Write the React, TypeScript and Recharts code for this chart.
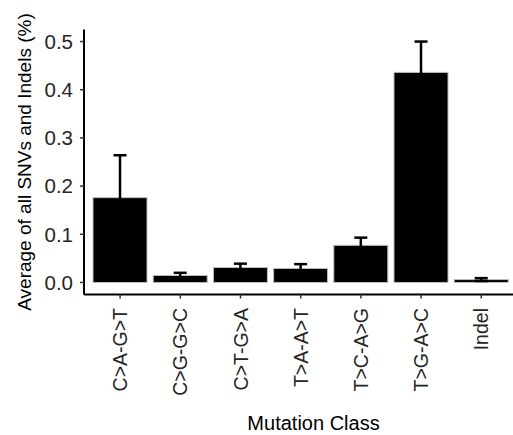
import React from "react";
import { BarChart, Bar, XAxis, YAxis, ErrorBar, Label } from "recharts";

const categories = ["C>A-G>T", "C>G-G>C", "C>T-G>A", "T>A-A>T", "T>C-A>G", "T>G-A>C", "Indel"];
const meanValues = [0.176, 0.0145, 0.031, 0.029, 0.077, 0.436, 0.006];
const upperValues = [0.264, 0.02, 0.039, 0.038, 0.093, 0.5, 0.009];
const yTicks = [0, 0.1, 0.2, 0.3, 0.4, 0.5];

const data = categories.map((c, i) => ({
  name: c,
  value: meanValues[i],
  err: upperValues[i] - meanValues[i],
}));

const FONT = "'Liberation Sans', Arial, Helvetica, sans-serif";

const XTick = (props: any) => {
  const { x, y, payload } = props;
  return (
    <text
      x={x}
      y={y}
      transform={`rotate(-90 ${x} ${y})`}
      textAnchor="end"
      dominantBaseline="central"
      fontSize={19.5}
      fontFamily={FONT}
      fill="#262626"
    >
      {payload.value}
    </text>
  );
};

export default function App() {
  return (
    <div style={{ position: "absolute", left: 0, top: 0, width: 513, height: 435, overflow: "hidden", background: "#fff" }}>
      <BarChart
        width={560}
        height={435}
        data={data}
        margin={{ top: 29.5, right: 17, bottom: 0, left: 0 }}
        barCategoryGap="5%"
      >
        <XAxis
          dataKey="name"
          height={140.5}
          interval={0}
          padding={{ left: 6, right: 31.6 }}
          axisLine={{ stroke: "#000", strokeWidth: 2 }}
          tickLine={{ stroke: "#333", strokeWidth: 1.5 }}
          tickSize={4}
          tickMargin={9.5}
          tick={<XTick />}
        >
          <Label value="Mutation Class" position="insideBottom" offset={5} fontSize={20} fontFamily={FONT} fill="#000" />
        </XAxis>
        <YAxis
          width={84}
          domain={[-0.025, 0.525]}
          ticks={yTicks}
          allowDataOverflow
          tickFormatter={(v: number) => v.toFixed(1)}
          axisLine={{ stroke: "#000", strokeWidth: 2 }}
          tickLine={{ stroke: "#333", strokeWidth: 1.5 }}
          tickSize={4}
          tickMargin={7}
          tick={{ fontSize: 20.5, fontFamily: FONT, fill: "#262626" }}
        >
          <Label
            value="Average of all SNVs and Indels (%)"
            angle={-90}
            position="insideLeft"
            offset={24}
            fontSize={19}
            fontFamily={FONT}
            fill="#000"
            style={{ textAnchor: "middle" }}
          />
        </YAxis>
        <Bar dataKey="value" fill="#000" stroke="#bdbdbd" strokeWidth={1} isAnimationActive={false}>
          <ErrorBar dataKey="err" width={6.5} stroke="#000" strokeWidth={2.5} direction="y" isAnimationActive={false} />
        </Bar>
      </BarChart>
    </div>
  );
}
